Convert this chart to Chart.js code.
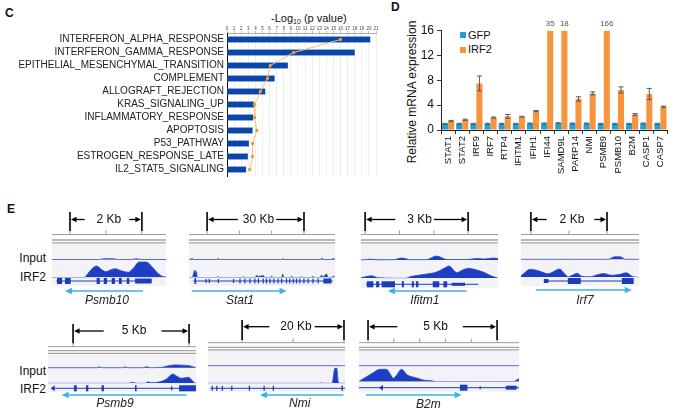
<!DOCTYPE html>
<html><head><meta charset="utf-8">
<script src="https://cdn.jsdelivr.net/npm/chart.js@4.4.1/dist/chart.umd.min.js"></script>
<style>
html,body{margin:0;padding:0;background:#fff}
body{width:674px;height:411px;position:relative;overflow:hidden;font-family:"Liberation Sans",Arial,Helvetica,sans-serif;color:#111}
canvas{position:absolute;display:block}
.t{position:absolute;white-space:nowrap;line-height:1}
.sq{position:absolute;width:6px;height:6px}
.lab{position:absolute;left:0;width:46px;text-align:right;font-size:12px;line-height:12px;color:#111}
</style></head><body>
<div class="t" style="left:5px;top:7px;font-weight:bold;font-size:12px">C</div>
<div class="t" style="left:391px;top:1px;font-weight:bold;font-size:12px">D</div>
<div class="t" style="left:7px;top:203px;font-weight:bold;font-size:12px">E</div>
<div class="t" style="left:271px;top:12.5px;font-size:11px">-Log<span style="font-size:7px;position:relative;top:2px">10</span> (p value)</div>
<div class="t" style="left:412px;top:92px;font-size:12px;transform:translate(-50%,-50%) rotate(-90deg)">Relative mRNA expression</div>
<div class="sq" style="left:460px;top:32px;background:#1ca3d8"></div>
<div class="t" style="left:468px;top:29.5px;font-size:11px">GFP</div>
<div class="sq" style="left:460px;top:46.5px;background:#f7953f"></div>
<div class="t" style="left:468px;top:44px;font-size:11px">IRF2</div>
<div class="lab" style="top:252px">Input</div>
<div class="lab" style="top:271px">IRF2</div>
<div class="lab" style="top:365px">Input</div>
<div class="lab" style="top:383px">IRF2</div>
<script>
// ---------- Panel C data ----------
const pathways = ['INTERFERON_ALPHA_RESPONSE','INTERFERON_GAMMA_RESPONSE','EPITHELIAL_MESENCHYMAL_TRANSITION','COMPLEMENT','ALLOGRAFT_REJECTION','KRAS_SIGNALING_UP','INFLAMMATORY_RESPONSE','APOPTOSIS','P53_PATHWAY','ESTROGEN_RESPONSE_LATE','IL2_STAT5_SIGNALING'];
const pathwayLog10P = [20.2,18.0,8.6,6.7,5.4,3.8,3.7,3.6,3.1,2.95,2.7];
const pathwayRatio = [16.0,9.4,6.1,5.7,4.7,3.9,3.9,4.2,3.6,3.6,3.2];

// ---------- Panel D data ----------
const genes = ['STAT1','STAT2','IRF9','IRF7','RTP4','IFITM1','IFIH1','IFI44','SAMD9L','PARP14','NMI','PSMB9','PSMB10','B2M','CASP1','CASP7'];
const gfpExpr = [1.0,1.0,1.0,1.0,1.0,1.0,1.05,1.05,1.1,1.05,1.05,1.0,1.0,1.0,1.05,1.0];
const gfpErr  = [0.08,0.08,0.08,0.08,0.08,0.08,0.08,0.08,0.08,0.08,0.08,0.08,0.08,0.08,0.08,0.08];
const irf2Expr = [1.45,1.65,7.5,2.0,2.2,2.15,3.05,35,18,5.0,5.9,166,6.45,2.5,5.8,3.75];
const irf2Err  = [0.1,0.1,1.2,0.1,0.3,0.05,0.1,0,0,0.35,0.25,0,0.5,0.15,0.9,0.1];
const dMaxTick = 16;

// ---------- Panel E data (x in kb within locus window, y = read signal) ----------
const psmb10Input = [[0,0],[1.3,0],[1.45,0.8],[1.7,0.8],[1.85,0],[2.2,0],[2.35,0.8],[2.5,0],[3.17,0]];
const psmb10IRF2 = [[0,0],[0.9,0],[1.0,4],[1.12,9],[1.24,11.5],[1.38,8],[1.5,5.8],[1.62,7.5],[1.75,8.8],[1.95,6.5],[2.12,5.2],[2.28,10],[2.42,15.5],[2.62,15.5],[2.8,10],[2.95,4],[3.08,1],[3.17,0.5]];
const psmb10Exons = [[0.14,0.28,6],[0.36,0.52,6],[1.24,1.33,6],[1.44,1.53,6],[1.66,1.75,6],[1.86,1.94,6],[2.08,2.15,6],[2.31,2.77,5]];

const stat1Input = [[0,0],[0.6,0],[0.93,1.5],[1.3,0],[8.6,0],[8.97,1.2],[9.4,0],[28.7,0],[29.1,1],[29.5,0],[40.7,0],[41.1,1.5],[41.5,0],[44.2,0],[44.5,1.2],[45.2,0]];
const stat1IRF2 = [[0,0],[1.0,0],[1.5,5],[1.8,7.5],[2.1,4],[2.3,6],[2.6,0],[8.7,0],[9.0,1],[9.3,0],[16.5,0],[16.8,1],[17.1,0],[20.5,0],[20.9,2],[21.5,1],[23,2],[23.5,0],[25.3,0],[25.6,1.5],[26,0],[28.7,0],[29,3.5],[29.4,0],[31.5,0],[31.8,1.5],[32.1,0],[34.6,0],[34.9,1],[35.2,0],[38.1,0],[38.4,1.5],[38.7,0],[40.7,0],[41,2.5],[41.5,0.5],[42.6,3.5],[43,0],[44.3,0],[44.6,1.5],[45.2,0]];
const stat1Exons = [[1.7,2.2,6],[5.1,5.4,4],[6.1,6.4,4],[8.9,9.2,4],[13.6,13.9,4],[15.6,15.9,5],[17.1,17.4,5],[18.7,19,5],[20.2,20.5,5],[21.3,21.6,5],[22.8,23.1,5],[23.8,24.1,5],[24.9,25.2,5],[26.1,26.4,5],[27.4,27.7,5],[28.5,28.8,5],[30,30.3,5],[31,31.3,5],[32.1,32.4,5],[33.1,33.4,5],[34.1,34.4,5],[35.4,35.7,5],[36.7,37,5],[38.2,38.5,5],[39.8,40.1,5],[41.6,44.1,5]];

const ifitm1Input = [[0,0],[0.1,0.3],[0.26,0.8],[0.5,0.2],[0.95,0.3],[1.19,2],[1.45,0.3],[1.9,0.3],[2.2,4],[2.5,0.5],[3.1,0.5],[3.37,1.5],[3.6,1],[3.85,2],[3.99,1.5]];
const ifitm1IRF2 = [[0,0.5],[0.12,1.5],[0.31,2.5],[0.5,0.5],[1.28,0],[1.48,2],[1.86,4],[2.18,6],[2.42,10],[2.57,12.3],[2.7,8],[2.79,5.6],[2.94,8],[3.13,10],[3.35,8.5],[3.61,5.5],[3.82,2],[3.96,0.5],[3.99,0]];
const ifitm1Exons = [[0.17,0.36,6],[0.44,0.53,6],[0.6,0.99,6],[1.19,1.25,6],[1.48,1.54,6],[1.6,1.67,6],[2.09,2.28,6],[2.4,2.51,6],[2.64,3.03,3]];

const irf7Input = [[0,0],[2.3,0],[2.45,2.5],[2.6,2.5],[2.75,0],[3.1,0]];
const irf7IRF2 = [[0,1.5],[0.05,3],[0.24,8],[0.5,6],[0.71,3.5],[0.82,5],[1.01,8.3],[1.16,3],[1.24,0.5],[1.34,2],[1.48,4],[1.6,1],[1.82,0.5],[2.0,2.5],[2.17,3.8],[2.39,2],[2.6,3],[2.76,4.6],[2.95,0.5],[3.1,0]];
const irf7Exons = [[0.6,0.72,4],[1.23,1.57,6],[2.65,2.96,6]];

const psmb9Input = [[0,0],[2.1,0],[2.21,0.8],[2.35,0],[3.2,0],[3.32,0.8],[3.45,0],[4.1,0],[4.25,1],[4.4,0],[4.9,0.3],[5.1,1.5],[5.47,2.8],[5.8,2.5],[6.1,2],[6.3,0.5],[6.38,0]];
const psmb9IRF2 = [[0,0],[3.5,0],[3.65,1],[3.8,0],[4.2,0],[4.32,1.5],[4.45,0.5],[4.83,1.5],[5.09,4],[5.38,9.3],[5.56,7],[5.76,5],[6.05,6],[6.21,3],[6.31,0.5],[6.38,0]];
const psmb9Exons = [[1.12,1.24,6],[1.64,1.74,6],[2.31,2.41,6],[3.75,3.82,6],[5.3,5.36,4],[5.65,6.38,6]];

const nmiInput = [[0,0],[26.9,0]];
const nmiIRF2 = [[0,0],[22.1,0],[22.3,0.8],[22.5,0],[24.4,0],[24.6,6],[24.9,15],[25.3,15],[25.5,4],[25.8,0],[26.9,0]];
const nmiExons = [[0.7,0.95,5],[1.6,1.85,5],[2.7,2.95,5],[4.55,4.8,5],[8.0,8.25,5],[10.9,11.15,5],[12.7,12.95,5],[26.2,26.5,5]];

const b2mInput = [[0,0],[6.2,0]];
const b2mIRF2 = [[0,0],[0.04,1],[0.23,4],[0.55,9],[0.81,12.4],[1.07,12.4],[1.2,8],[1.33,3.4],[1.47,7],[1.65,12.4],[1.86,7],[2.24,3.7],[2.52,1.5],[2.82,1],[2.95,0],[6.0,0],[6.12,2],[6.2,3]];
const b2mExons = [[3.91,4.2,6],[4.67,4.72,3],[5.69,6.11,4]];

// locus annotation: window length, scale bar, ruler ticks, gene line, transcript arrow, strand
const loci = [
 {id:'psmb10', name:'Psmb10', len:3.17, bar:[0.5,2.5], barLabel:'2 Kb', ticks:[0.5,1.5,2.5], input:psmb10Input, irf2:psmb10IRF2, exons:psmb10Exons, gene:[0.14,2.78], chevron:0.14, arrow:[0.36,2.53], dir:-1, nameAt:1.53},
 {id:'stat1', name:'Stat1', len:45.2, bar:[5.6,35.6], barLabel:'30 Kb', ticks:[5.6,15.6,25.6,35.6], input:stat1Input, irf2:stat1IRF2, exons:stat1Exons, gene:[1.3,44.5], chevron:null, arrow:[0.84,30.2], dir:1, nameAt:15.8},
 {id:'ifitm1', name:'Ifitm1', len:3.99, bar:[0.12,3.12], barLabel:'3 Kb', ticks:[0.12,1.12,2.12,3.12], input:ifitm1Input, irf2:ifitm1IRF2, exons:ifitm1Exons, gene:[0.17,3.42], chevron:0.17, arrow:[0.78,3.08], dir:-1, nameAt:1.86},
 {id:'irf7', name:'Irf7', len:3.1, bar:[0.26,2.26], barLabel:'2 Kb', ticks:[0.26,1.26,2.26], input:irf7Input, irf2:irf7IRF2, exons:irf7Exons, gene:[0.6,2.95], chevron:null, arrow:[0.39,2.91], dir:1, nameAt:1.68},
 {id:'psmb9', name:'Psmb9', len:6.38, bar:[1.08,6.08], barLabel:'5 Kb', ticks:[1.08,6.08], input:psmb9Input, irf2:psmb9IRF2, exons:psmb9Exons, gene:[0.16,6.38], chevron:0.16, arrow:[0.59,5.98], dir:-1, nameAt:2.89},
 {id:'nmi', name:'Nmi', len:26.9, bar:[6.7,26.7], barLabel:'20 Kb', ticks:[6.7,16.7,26.7], input:nmiInput, irf2:nmiIRF2, exons:nmiExons, gene:[0.5,26.9], chevron:null, arrow:[10.2,26.6], dir:-1, nameAt:18.0},
 {id:'b2m', name:'B2m', len:6.2, bar:[0.35,5.35], barLabel:'5 Kb', ticks:[0.35,1.35,2.35,3.35,4.35,5.35], input:b2mInput, irf2:b2mIRF2, exons:b2mExons, gene:[0,6.2], chevron:0.81, arrow:[0.27,3.98], dir:1, nameAt:2.69}
];

// ---------- layout (page pixel positions) ----------
const row1 = {top:205, h:103, tickTop:212, tickBot:231, textY:219.5, rulerY:234.5, dbl1:240, dbl2:242.8, bgTop:243.5, inputBase:259.5, irfBase:277.5, geneY:281, bgBot:286, arrowY:291, nameY:300.5};
const row2a = {top:314, h:97, tickTop:324, tickBot:343.3, textY:331, rulerY:346.7, dbl1:350.7, dbl2:353.3, bgTop:354, inputBase:367.7, irfBase:383.3, geneY:388.3, bgBot:392, arrowY:395, nameY:403.5};
const row2b = {top:314, h:97, tickTop:320, tickBot:340, textY:326.7, rulerY:342.7, dbl1:347.3, dbl2:349.9, bgTop:350.5, inputBase:365.7, irfBase:383.3, geneY:388.3, bgBot:392, arrowY:395, nameY:404};
const lays = {
 psmb10: Object.assign({}, row1, {left:52, right:166, gapL:12, gapR:8}),
 stat1:  Object.assign({}, row1, {left:189, right:335, gapL:5, gapR:2}),
 ifitm1: Object.assign({}, row1, {left:361, right:498, gapL:12, gapR:2, inputBase:260, irfBase:278.3, geneY:284.3, bgBot:288}),
 irf7:   Object.assign({}, row1, {left:521, right:639, gapL:13, gapR:10, inputBase:259.3, irfBase:277.3, arrowY:290}),
 psmb9:  Object.assign({}, row2a, {left:48, right:196, gapL:18, gapR:15}),
 nmi:    Object.assign({}, row2b, {left:208, right:345, gapL:11, gapR:3}),
 b2m:    Object.assign({}, row2b, {left:359, right:519, gapL:26, gapR:15, irfBase:381.7, geneY:387.7, nameY:405})
};

const FONT = '"Liberation Sans", Arial, Helvetica, sans-serif';
Chart.defaults.font.family = FONT;

function addCanvas(left, top, w, h) {
  const cv = document.createElement('canvas');
  cv.width = w; cv.height = h;
  cv.style.left = left + 'px'; cv.style.top = top + 'px';
  cv.style.width = w + 'px'; cv.style.height = h + 'px';
  document.body.appendChild(cv);
  return cv;
}
function seg(c, x1, y1, x2, y2) { c.beginPath(); c.moveTo(x1, y1); c.lineTo(x2, y2); c.stroke(); }
function head(c, x, y, dir, len, hw) { // tip at x, pointing dir
  c.beginPath(); c.moveTo(x, y); c.lineTo(x - dir * len, y - hw); c.lineTo(x - dir * len, y + hw); c.closePath(); c.fill();
}

// ---------- Panel C ----------
new Chart(addCanvas(0, 0, 380, 185), {
  type: 'bar',
  data: {
    labels: pathways,
    datasets: [
      {type: 'line', indexAxis: 'y', data: pathwayRatio, borderColor: '#f8c27a', borderWidth: 1, pointRadius: 1.7, pointBackgroundColor: '#ee9d2a', pointBorderWidth: 0, order: 0},
      {type: 'bar', data: pathwayLog10P, backgroundColor: '#0b45aa', borderColor: '#6d9be3', borderWidth: 0.6, barThickness: 6, order: 1}
    ]
  },
  options: {
    indexAxis: 'y', responsive: false, animation: false, events: [],
    layout: {padding: {top: 0, right: 2, bottom: 9, left: 0}},
    plugins: {legend: {display: false}, tooltip: {enabled: false}},
    scales: {
      x: {type: 'linear', position: 'top', min: 0, max: 21,
          ticks: {stepSize: 1, autoSkip: false, maxRotation: 0, font: {size: 4.5}, color: '#444', padding: 0},
          grid: {color: '#e4e4e4', lineWidth: 0.6, tickLength: 2, tickColor: '#888', tickWidth: 0.6},
          border: {color: '#999', width: 0.8},
          afterFit(s) { s.height = 33; }},
      y: {ticks: {autoSkip: false, font: {size: 10}, color: '#222', padding: 3},
          grid: {display: false, drawTicks: false},
          border: {color: '#111', width: 1},
          afterFit(s) { s.width = 227; }}
    }
  }
});

// ---------- Panel D ----------
const errPlugin = {
  id: 'errbars',
  afterDatasetsDraw(chart) {
    const c = chart.ctx, Y = chart.scales.y, errs = [gfpErr, irf2Err];
    c.save();
    chart.data.datasets.forEach((ds, di) => {
      const meta = chart.getDatasetMeta(di);
      meta.data.forEach((bar, i) => {
        const v = ds.data[i], e = errs[di][i];
        if (v > Y.max) {
          c.fillStyle = '#555'; c.font = '8px ' + FONT; c.textAlign = 'center'; c.textBaseline = 'middle';
          c.fillText(String(v), bar.x, 24);
          return;
        }
        if (!e) return;
        const yt = Y.getPixelForValue(v + e), yb = Y.getPixelForValue(v - e);
        c.strokeStyle = '#5a5a5a'; c.lineWidth = 1;
        seg(c, bar.x, yt, bar.x, yb);
        seg(c, bar.x - 2.5, yt, bar.x + 2.5, yt);
        seg(c, bar.x - 2.5, yb, bar.x + 2.5, yb);
      });
    });
    c.restore();
  }
};
new Chart(addCanvas(380, 0, 294, 190), {
  type: 'bar',
  data: {labels: genes, datasets: [
    {label: 'GFP', data: gfpExpr, backgroundColor: '#1ca3d8'},
    {label: 'IRF2', data: irf2Expr, backgroundColor: '#f7953f'}
  ]},
  options: {
    responsive: false, animation: false, events: [],
    layout: {padding: {top: 30.7, right: 6, left: 0, bottom: 0}},
    datasets: {bar: {categoryPercentage: 0.86, barPercentage: 1}},
    plugins: {legend: {display: false}, tooltip: {enabled: false}},
    scales: {
      x: {ticks: {autoSkip: false, minRotation: 90, maxRotation: 90, font: {size: 9.5}, color: '#111', padding: 2},
          grid: {drawOnChartArea: false, tickLength: 4, color: '#333'},
          border: {color: '#222', width: 1},
          afterFit(s) { s.height = 60; }},
      y: {min: 0, max: dMaxTick, ticks: {stepSize: 2, font: {size: 12}, color: '#111', padding: 3},
          grid: {drawOnChartArea: false, tickLength: 4, color: '#333'},
          border: {color: '#222', width: 1},
          afterFit(s) { s.width = 61; }}
    }
  },
  plugins: [errPlugin]
});

// ---------- Panel E ----------
function makeGenomePlugin(loc, lay) {
  return {
    id: 'genome_' + loc.id,
    beforeDraw(chart) {
      const c = chart.ctx, t = lay.top;
      c.save(); c.fillStyle = '#f3f3f7';
      c.fillRect(0, lay.bgTop - t, chart.width, lay.bgBot - lay.bgTop);
      c.restore();
    },
    afterDraw(chart) {
      const c = chart.ctx, X = chart.scales.x, t = lay.top, W = chart.width;
      const px = v => X.getPixelForValue(v);
      c.save();
      // ruler
      c.strokeStyle = '#9c9c9c'; c.lineWidth = 1;
      seg(c, 0, lay.rulerY - t, W, lay.rulerY - t);
      loc.ticks.forEach(v => seg(c, px(v), lay.rulerY - t - 4, px(v), lay.rulerY - t));
      // double line
      c.strokeStyle = '#a3a3a3'; c.lineWidth = 1.3;
      seg(c, 0, lay.dbl1 - t, W, lay.dbl1 - t);
      seg(c, 0, lay.dbl2 - t, W, lay.dbl2 - t);
      // scale bar
      const x1 = px(loc.bar[0]), x2 = px(loc.bar[1]), ty = lay.textY - t;
      c.strokeStyle = '#000'; c.fillStyle = '#000'; c.lineWidth = 1.6;
      seg(c, x1, lay.tickTop - t, x1, lay.tickBot - t);
      seg(c, x2, lay.tickTop - t, x2, lay.tickBot - t);
      c.font = '12px ' + FONT; c.textAlign = 'center'; c.textBaseline = 'middle';
      const tc = (x1 + x2) / 2 + 3, tw = c.measureText(loc.barLabel).width;
      c.fillStyle = '#111'; c.fillText(loc.barLabel, tc, ty);
      c.fillStyle = '#000'; c.lineWidth = 1.3;
      const la = tc - tw / 2 - lay.gapL, ra = tc + tw / 2 + lay.gapR;
      seg(c, la, ty, x1 + 4, ty); head(c, x1 + 1, ty, -1, 5.5, 2.8);
      seg(c, ra, ty, x2 - 4, ty); head(c, x2 - 1, ty, 1, 5.5, 2.8);
      // gene model
      const gy = lay.geneY - t, gcol = '#1d3cb8';
      c.strokeStyle = gcol; c.fillStyle = gcol; c.lineWidth = 1;
      seg(c, px(loc.gene[0]), gy, px(loc.gene[1]), gy);
      loc.exons.forEach(e => {
        const a = px(e[0]), b = px(e[1]);
        c.fillRect(a, gy - e[2] / 2, Math.max(b - a, 1.2), e[2]);
      });
      if (loc.chevron !== null) head(c, px(loc.chevron) - 1, gy, -1, 4, 3);
      // transcript arrow
      const ay = lay.arrowY - t, acol = '#3ab2e6';
      c.strokeStyle = acol; c.fillStyle = acol; c.lineWidth = 1.6;
      const a0 = px(loc.arrow[0]), a1 = px(loc.arrow[1]);
      if (loc.dir < 0) { seg(c, a0 + 5, ay, a1, ay); head(c, a0, ay, -1, 7, 3.2); }
      else { seg(c, a0, ay, a1 - 5, ay); head(c, a1, ay, 1, 7, 3.2); }
      // gene name
      c.fillStyle = '#222'; c.font = 'italic 12px ' + FONT; c.textAlign = 'center'; c.textBaseline = 'middle';
      c.fillText(loc.name, px(loc.nameAt), lay.nameY - t);
      c.restore();
    }
  };
}

loci.forEach(loc => {
  const lay = lays[loc.id];
  const w = lay.right - lay.left;
  const areaTop = lay.inputBase - 10;
  const cv = addCanvas(lay.left, lay.top, w, lay.h);
  const trackStyle = {borderColor: '#2c4bcc', backgroundColor: '#1d3ec2', borderWidth: 0.8, pointRadius: 0, fill: {value: 0}, cubicInterpolationMode: 'monotone'};
  new Chart(cv, {
    type: 'line',
    data: {datasets: [
      Object.assign({data: loc.input, yAxisID: 'yIn'}, trackStyle),
      Object.assign({data: loc.irf2, yAxisID: 'yIrf'}, trackStyle)
    ]},
    options: {
      responsive: false, animation: false, events: [],
      layout: {padding: {left: 0, right: 0, top: areaTop - lay.top, bottom: lay.top + lay.h - lay.irfBase}},
      plugins: {legend: {display: false}, tooltip: {enabled: false}},
      scales: {
        x: {type: 'linear', min: 0, max: loc.len, display: false},
        yIn: {type: 'linear', min: -(lay.irfBase - lay.inputBase), max: 10, display: false},
        yIrf: {type: 'linear', min: 0, max: lay.irfBase - areaTop, display: false}
      }
    },
    plugins: [makeGenomePlugin(loc, lay)]
  });
});
</script>
</body></html>
